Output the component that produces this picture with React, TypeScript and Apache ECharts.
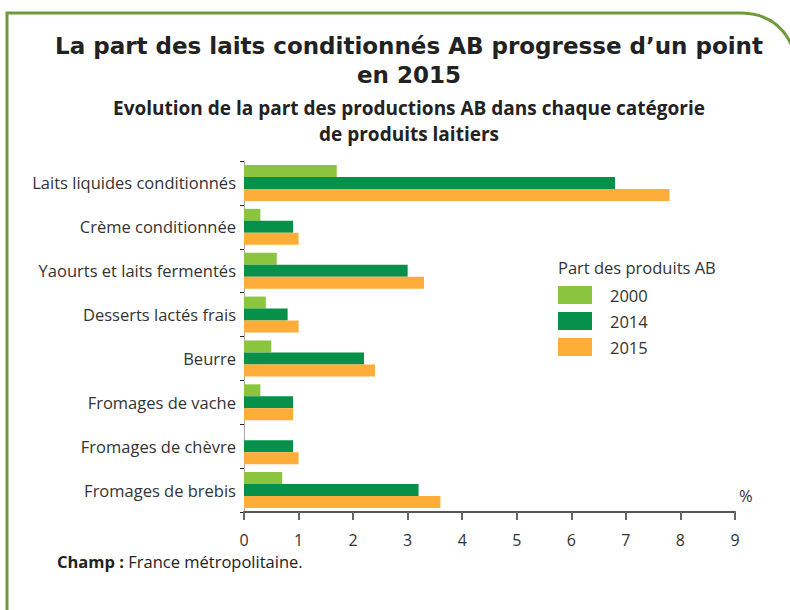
import React, { useEffect, useRef } from "react";
import * as echarts from "echarts";

const categories = [
  "Laits liquides conditionnés",
  "Crème conditionnée",
  "Yaourts et laits fermentés",
  "Desserts lactés frais",
  "Beurre",
  "Fromages de vache",
  "Fromages de chèvre",
  "Fromages de brebis",
];
const values2000 = [1.7, 0.3, 0.6, 0.4, 0.5, 0.3, 0, 0.7];
const values2014 = [6.8, 0.9, 3.0, 0.8, 2.2, 0.9, 0.9, 3.2];
const values2015 = [7.8, 1.0, 3.3, 1.0, 2.4, 0.9, 1.0, 3.6];
const seriesNames = ["2000", "2014", "2015"];
const colors = ["#8BC53F", "#07904A", "#FDAD38"];

const title = "La part des laits conditionnés AB progresse d’un point\nen 2015";
const subtitleLines = [
  "Evolution de la part des productions AB dans chaque catégorie",
  "de produits laitiers",
];
const legendTitle = "Part des produits AB";
const unit = "%";

echarts.graphic.registerShape(
  "frameBorder",
  echarts.graphic.extendPath("M7 612 L7 13 L742 13 Q778 14 792 46", {})
);

export default function App() {
  const ref = useRef<HTMLDivElement>(null);
  useEffect(() => {
    if (!ref.current) return;
    const chart = echarts.init(ref.current, null, { renderer: "svg" });
    const font = "'Open Sans', 'Noto Sans', sans-serif";
    chart.setOption({
      animation: false,
      backgroundColor: "#ffffff",
      textStyle: { fontFamily: font },
      grid: { left: 244, right: 55, top: 161, bottom: 98, containLabel: false },
      legend: {
        orient: "vertical",
        left: 553,
        top: 281,
        itemWidth: 34,
        itemHeight: 18,
        itemGap: 8,
        icon: "rect",
        textStyle: { fontSize: 16.5, color: "#333", fontFamily: font, padding: [0, 0, 0, 13] },
        data: seriesNames,
      },
      xAxis: {
        type: "value",
        min: 0,
        max: 9,
        interval: 1,
        axisLine: { show: true, lineStyle: { color: "#555", width: 2 } },
        axisTick: { show: true, length: 8, lineStyle: { color: "#666", width: 2 } },
        axisLabel: { color: "#333", fontSize: 16, margin: 20, fontFamily: font },
        splitLine: { show: false },
      },
      yAxis: {
        type: "category",
        inverse: true,
        data: categories,
        axisLine: { show: true, lineStyle: { color: "#aaa", width: 1 } },
        axisTick: { show: true, length: 4, lineStyle: { color: "#222", width: 1 } },
        axisLabel: { color: "#333", fontSize: 16.5, margin: 8, fontFamily: font },
      },
      series: [values2000, values2014, values2015].map((d, i) => ({
        type: "bar",
        name: seriesNames[i],
        data: d,
        barWidth: 12,
        barGap: "0%",
        itemStyle: { color: colors[i] },
      })),
      graphic: [
        {
          type: "frameBorder",
          shape: {},
          style: { fill: "none", stroke: "#6E9A3C", lineWidth: 3 },
        },
        {
          type: "text",
          x: 409,
          y: 31,
          style: {
            text: title,
            textAlign: "center",
            fill: "#222",
            font: "bold 23px 'DejaVu Sans', Verdana, sans-serif",
            lineHeight: 29,
          },
        },
        ...subtitleLines.map((t, i) => ({
          type: "text",
          x: 409,
          y: 108 + i * 26,
          style: {
            text: t,
            textAlign: "center",
            textVerticalAlign: "middle",
            fill: "#222",
            font: `bold 19px ${font}`,
          },
        })),
        {
          type: "text",
          x: 558,
          y: 259,
          style: { text: legendTitle, fill: "#333", font: `16.5px ${font}` },
        },
        {
          type: "text",
          x: 739,
          y: 487,
          style: { text: unit, fill: "#333", font: `16.5px ${font}` },
        },
        {
          type: "text",
          x: 57,
          y: 553,
          style: {
            text: "{b|Champ :} France métropolitaine.",
            fill: "#222",
            font: `16.5px ${font}`,
            rich: {
              b: { fontWeight: "bold", fontSize: 16.5, fontFamily: font, fill: "#222" },
            },
          },
        },
      ],
    });
    return () => chart.dispose();
  }, []);
  return (
    <div
      ref={ref}
      style={{ position: "fixed", left: 0, top: 0, width: 790, height: 610 }}
    />
  );
}
